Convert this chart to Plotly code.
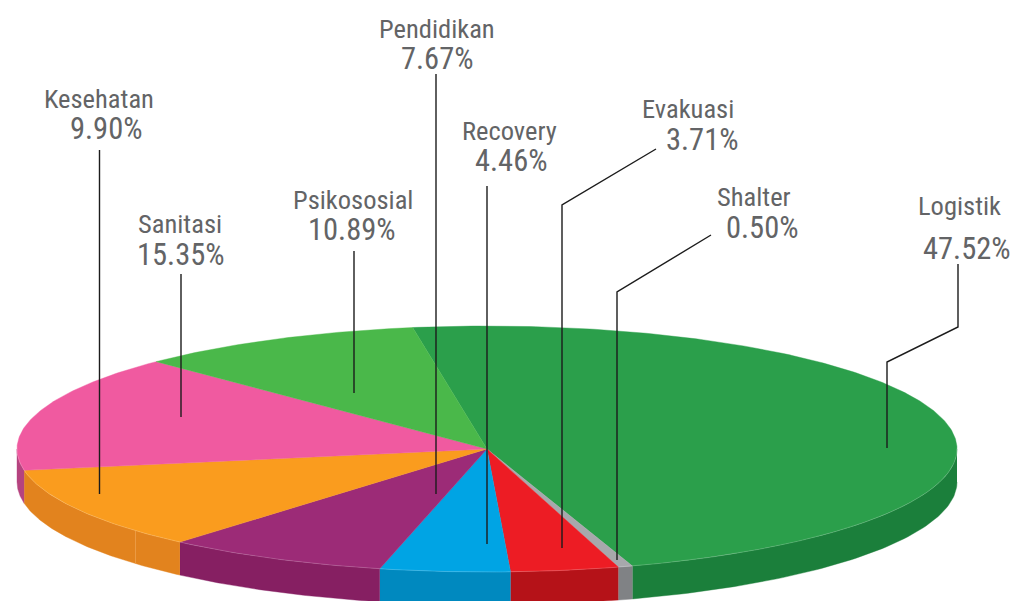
import numpy as np
import plotly.graph_objects as go

# Slices in drawing order, clockwise from the back of the pie
slice_names = ["Logistik", "Shalter", "Evakuasi", "Recovery", "Pendidikan", "Kesehatan", "Sanitasi", "Psikososial"]
# Printed percentages
label_percent = [47.52, 0.50, 3.71, 4.46, 7.67, 9.90, 15.35, 10.89]
# Wedge sizes as drawn: the picture's orange and light-green wedges have each other's printed share
wedge_percent = [47.52, 0.50, 3.71, 4.46, 7.67, 10.89, 15.35, 9.90]
top_colors = ["#2b9f4b", "#a7a8ac", "#ed1c24", "#00a4e4", "#9c2b77", "#fa9c1e", "#f05aa0", "#4ab84a"]
wall_colors = ["#1b7f3b", "#808285", "#b51218", "#0089bf", "#861f62", "#e2831e", "#b5437f", "#3a9a3c"]

# Projection of the pie on the page
CX, CY, RX, RY, DEPTH = 487, 449, 470, 123, 33
START = -9.1

# Text: name x, name y, percent x, percent y
label_pos = {
    "Logistik": (959, 205, 967, 248),
    "Shalter": (754, 196, 762, 227),
    "Evakuasi": (688, 108, 702, 139),
    "Recovery": (509, 130, 511, 160),
    "Pendidikan": (437, 28, 437, 58),
    "Kesehatan": (99, 98, 106, 128),
    "Sanitasi": (180, 223, 181, 254),
    "Psikososial": (353, 199, 352, 229),
}
leaders = {
    "Logistik": [(958, 264), (958, 327), (887, 362), (887, 448)],
    "Shalter": [(711, 235), (617, 292), (617, 560)],
    "Evakuasi": [(656, 149), (562, 205), (562, 548)],
    "Recovery": [(487, 186), (487, 544)],
    "Pendidikan": [(436, 74), (436, 494)],
    "Kesehatan": [(99.5, 150), (99.5, 494)],
    "Sanitasi": [(181, 274), (181, 417)],
    "Psikososial": [(354, 251), (354, 393)],
}
SEAM_ANGLE = 228.4
TEXT_COLOR = "#636466"
FONT = "Roboto Condensed, Roboto, sans-serif"


def rim(a):
    r = np.radians(a)
    return CX + RX * np.sin(r), CY - RY * np.cos(r)


fig = go.Figure()
edges = START + np.concatenate([[0], np.cumsum(wedge_percent)]) * 3.6

# Side walls: only the front half (90..270 degrees) shows
for i in range(len(slice_names)):
    a0, a1 = max(edges[i], 90), min(edges[i + 1], 270)
    if a1 <= a0:
        continue
    t = np.linspace(a0, a1, 80)
    x, y = rim(t)
    fig.add_trace(go.Scatter(
        x=np.concatenate([x, x[::-1]]), y=np.concatenate([y, y[::-1] + DEPTH]),
        mode="lines", fill="toself", fillcolor=wall_colors[i],
        line=dict(color=wall_colors[i], width=0.4), hoverinfo="skip", showlegend=False))

sx, sy = rim(SEAM_ANGLE)
fig.add_trace(go.Scatter(x=[sx, sx], y=[sy, sy + DEPTH], mode="lines",
                         line=dict(color="#eca04e", width=0.8), hoverinfo="skip", showlegend=False))

# Top faces
for i, name in enumerate(slice_names):
    t = np.linspace(edges[i], edges[i + 1], max(3, int(wedge_percent[i] * 6)))
    x, y = rim(t)
    fig.add_trace(go.Scatter(
        x=np.concatenate([[CX], x, [CX]]), y=np.concatenate([[CY], y, [CY]]),
        mode="lines", fill="toself", fillcolor=top_colors[i],
        line=dict(color=top_colors[i], width=0.4), name=name,
        hovertemplate=f"{name}: {label_percent[i]:.2f}%<extra></extra>", showlegend=False))

# Faint highlight where the top face meets the wall
tx, ty = rim(np.linspace(90, 270, 240))
fig.add_trace(go.Scatter(x=tx, y=ty, mode="lines", line=dict(color="rgba(255,255,255,0.22)", width=0.8),
                         hoverinfo="skip", showlegend=False))

# Leader lines
for name in slice_names:
    pts = leaders[name]
    fig.add_shape(type="path", xref="x", yref="y",
                  path="M " + " L ".join(f"{a} {b}" for a, b in pts),
                  line=dict(color="#1c1c1c", width=1.4), layer="above")

# Labels
for i, name in enumerate(slice_names):
    nx, ny, px, py = label_pos[name]
    fig.add_annotation(x=nx, y=ny, text=name, showarrow=False, xanchor="center", yanchor="middle",
                       font=dict(family=FONT, size=26.5, color=TEXT_COLOR))
    fig.add_annotation(x=px, y=py, text=f"{label_percent[i]:.2f}%", showarrow=False, xanchor="center", yanchor="middle",
                       font=dict(family=FONT, size=30.5, color=TEXT_COLOR))

fig.update_layout(
    width=1015, height=601, margin=dict(l=0, r=0, t=0, b=0),
    paper_bgcolor="white", plot_bgcolor="white", showlegend=False,
    xaxis=dict(range=[0, 1015], visible=False, fixedrange=True),
    yaxis=dict(range=[601, 0], visible=False, fixedrange=True),
)
post = """
document.body.style.margin='0';document.body.style.overflow='hidden';
var s=document.createElement('style');s.textContent='.annotation-text{font-stretch:75%;}';document.head.appendChild(s);
"""
fig.write_html("out.html", config={"displayModeBar": False}, post_script=post)
